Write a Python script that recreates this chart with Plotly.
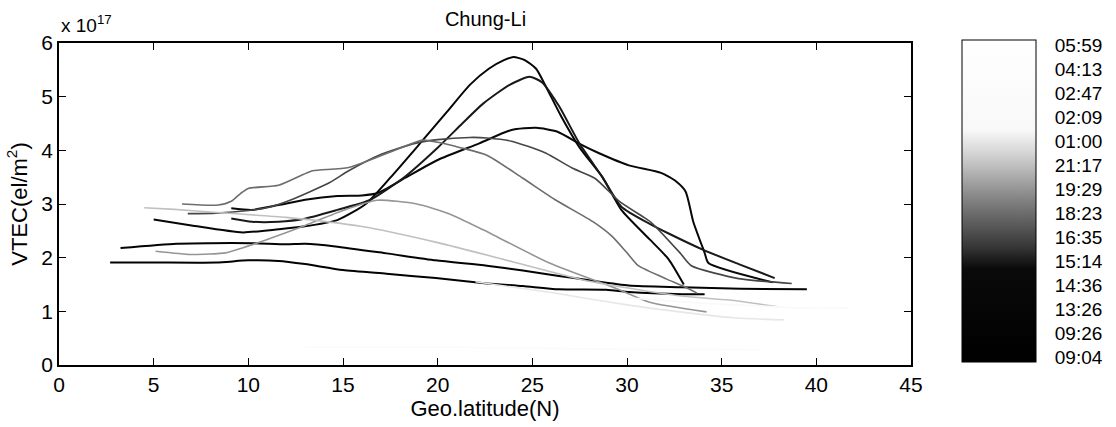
import plotly.graph_objects as go
from plotly.colors import sample_colorscale

# ---- data (VTEC in units of 1e17 el/m^2) ----
times = ["09:04", "09:26", "13:26", "14:36", "15:14", "16:35", "18:23",
         "19:29", "21:17", "01:00", "02:09", "02:47", "04:13", "05:59"]
levels = list(range(1, 15))

lat_0904 = [2.7, 5.0, 8.3, 10.0, 11.6, 13.0, 15.0, 17.3, 19.9, 22.6, 24.5, 26.4, 28.9, 30.1, 32.9, 34.1]
vtec_0904 = [1.91, 1.91, 1.91, 1.95, 1.94, 1.88, 1.77, 1.70, 1.62, 1.52, 1.47, 1.41, 1.40, 1.36, 1.32, 1.32]

lat_0926 = [3.25, 6.2, 8.0, 10.2, 12.0, 13.0, 14.6, 17.3, 19.9, 22.6, 24.5, 26.4, 28.0, 30.1, 32.9, 36.0, 39.5]
vtec_0926 = [2.18, 2.26, 2.27, 2.27, 2.25, 2.26, 2.21, 2.08, 1.95, 1.85, 1.76, 1.66, 1.58, 1.48, 1.45, 1.42, 1.41]

lat_1326 = [5.0, 7.0, 9.7, 11.6, 12.9, 14.7, 16.2, 17.5, 19.0, 20.5, 21.7, 22.7, 23.5, 24.0,
            24.6, 25.2, 25.7, 26.5, 27.5, 28.7, 29.7, 31.2, 32.2, 33.0]
vtec_1326 = [2.71, 2.60, 2.47, 2.53, 2.58, 2.70, 3.00, 3.49, 4.10, 4.72, 5.22, 5.52, 5.68, 5.74,
             5.68, 5.52, 5.20, 4.65, 4.05, 3.50, 2.89, 2.34, 1.97, 1.50]

lat_1436 = [9.1, 10.2, 11.6, 13.0, 14.7, 16.0, 16.8, 18.3, 20.0, 22.2, 23.9, 25.2, 26.3, 27.5,
            28.5, 30.1, 31.8, 32.6, 33.1, 33.5, 34.1, 34.3, 37.7]
vtec_1436 = [2.92, 2.89, 2.98, 3.08, 3.15, 3.16, 3.20, 3.49, 3.82, 4.13, 4.38, 4.42, 4.35, 4.12,
             3.95, 3.72, 3.58, 3.42, 3.23, 2.67, 2.09, 1.90, 1.54]

lat_1514 = [9.1, 10.2, 11.6, 12.9, 14.7, 16.4, 18.2, 20.0, 21.3, 22.4, 23.8, 24.85, 25.5, 26.4,
            27.5, 28.7, 29.7, 31.2, 32.2, 34.0, 35.9, 37.8]
vtec_1514 = [2.73, 2.67, 2.67, 2.72, 2.89, 3.07, 3.49, 4.05, 4.50, 4.87, 5.22, 5.37, 5.27, 4.83,
             4.12, 3.50, 2.95, 2.63, 2.45, 2.15, 1.88, 1.62]

lat_1635 = [6.8, 8.3, 10.0, 11.1, 12.2, 14.3, 15.3, 16.9, 18.8, 20.0, 21.7, 22.6, 23.9, 25.7,
            27.1, 28.3, 29.6, 30.9, 31.3, 32.8, 33.4, 35.9, 38.7]
vtec_1635 = [2.82, 2.83, 2.88, 2.94, 3.07, 3.40, 3.62, 3.91, 4.13, 4.20, 4.24, 4.23, 4.17, 3.95,
             3.67, 3.48, 3.05, 2.75, 2.65, 2.09, 1.85, 1.61, 1.52]

lat_1823 = [6.5, 8.4, 9.1, 9.6, 10.0, 11.6, 12.9, 13.4, 15.3, 18.0, 19.2, 20.0, 21.2, 22.6,
            24.5, 26.25, 28.2, 29.2, 30.0, 30.6, 32.1, 32.9, 33.7]
vtec_1823 = [3.00, 2.98, 3.05, 3.20, 3.29, 3.35, 3.55, 3.62, 3.68, 4.04, 4.19, 4.15, 4.05, 3.91,
             3.48, 3.07, 2.67, 2.40, 2.09, 1.85, 1.60, 1.48, 1.34]

lat_1929 = [5.1, 7.0, 8.8, 9.5, 11.0, 13.0, 15.0, 16.8, 18.9, 20.6, 22.4, 25.9, 29.4, 31.2, 34.2]
vtec_1929 = [2.12, 2.06, 2.09, 2.16, 2.34, 2.60, 2.88, 3.07, 3.00, 2.82, 2.52, 1.90, 1.43, 1.17, 0.99]

lat_2117 = [4.5, 6.1, 8.0, 12.0, 16.0, 20.0, 24.0, 28.0, 31.0, 33.0, 35.4, 37.9]
vtec_2117 = [2.93, 2.90, 2.85, 2.75, 2.58, 2.28, 1.92, 1.56, 1.38, 1.28, 1.21, 1.09]

lat_0100 = [22.0, 26.0, 30.0, 33.0, 35.6, 38.3]
vtec_0100 = [1.55, 1.35, 1.12, 0.98, 0.88, 0.84]

lat_0209 = [30.0, 34.0, 37.0, 39.2, 41.7]
vtec_0209 = [1.25, 1.15, 1.10, 1.06, 1.06]

lat_0247 = [13.0, 15.3, 20.6, 23.4, 28.0, 31.7, 36.4, 37.0]
vtec_0247 = [0.33, 0.33, 0.33, 0.32, 0.30, 0.29, 0.29, 0.28]

lat_0413 = [1.0, 5.0, 10.0, 15.0, 20.0]
vtec_0413 = [0.05, 0.05, 0.06, 0.06, 0.05]

lat_0559 = [10.0, 20.0, 30.0, 40.0]
vtec_0559 = [0.10, 0.10, 0.10, 0.10]

series = [
    (lat_0904, vtec_0904), (lat_0926, vtec_0926), (lat_1326, vtec_1326),
    (lat_1436, vtec_1436), (lat_1514, vtec_1514), (lat_1635, vtec_1635),
    (lat_1823, vtec_1823), (lat_1929, vtec_1929), (lat_2117, vtec_2117),
    (lat_0100, vtec_0100), (lat_0209, vtec_0209), (lat_0247, vtec_0247),
    (lat_0413, vtec_0413), (lat_0559, vtec_0559),
]

# ---- styling ----
FONT = "Liberation Sans, Arial, sans-serif"
cmin, cmax = 0.8, 14.2
gray_scale = [[0.0, "#000000"], [0.29, "#0a0a0a"], [0.36, "#383838"],
              [0.50, "#808080"], [0.64, "#d0d0d0"], [0.72, "#f8f8f8"], [1.0, "#ffffff"]]

fig = go.Figure()
for lev, (lat, vt) in zip(levels, series):
    frac = (lev - cmin) / (cmax - cmin)
    col = sample_colorscale(gray_scale, [frac])[0]
    fig.add_trace(go.Scatter(
        x=lat, y=vt, mode="lines",
        line=dict(color=col, width=2.0 if lev <= 5 else 1.6, shape="spline", smoothing=0.6),
        showlegend=False, hoverinfo="skip"))

# colour bar carrier (invisible markers)
fig.add_trace(go.Scatter(
    x=[s[0][0] for s in series], y=[s[1][0] for s in series], mode="markers",
    marker=dict(color=levels, colorscale=gray_scale, cmin=cmin, cmax=cmax,
                opacity=0, size=1,
                colorbar=dict(
                    x=(963 - 59) / 853, xanchor="left", xpad=0, ypad=0,
                    y=0.509, yanchor="middle", len=1.0, lenmode="fraction",
                    thickness=74, outlinewidth=1, outlinecolor="black",
                    tickvals=levels, ticktext=times,
                    ticks="outside", ticklen=15, tickcolor="rgba(0,0,0,0)",
                    tickfont=dict(family=FONT, size=19, color="black"))),
    showlegend=False, hoverinfo="skip"))

axis_common = dict(showline=True, linecolor="black", linewidth=1.5, mirror="ticks",
                   ticks="inside", ticklen=7, tickwidth=1, tickcolor="black",
                   showgrid=False, zeroline=False,
                   tickfont=dict(family=FONT, size=21, color="black"))

fig.update_layout(
    width=1116, height=427,
    margin=dict(l=59, r=204, t=43, b=56),
    paper_bgcolor="white", plot_bgcolor="white",
    title=dict(text="Chung-Li", x=(59 + 912) / 2 / 1116, xanchor="center",
               y=1 - 19 / 427, yanchor="middle", yref="container",
               font=dict(family=FONT, size=20, color="black")),
    xaxis=dict(range=[0, 45], tick0=0, dtick=5,
               title=dict(text="Geo.latitude(N)", standoff=4,
                          font=dict(family=FONT, size=22, color="black")),
               **axis_common),
    yaxis=dict(range=[0, 6], tick0=0, dtick=1,
               title=dict(text="VTEC(el/m<sup>2</sup>)", standoff=8,
                          font=dict(family=FONT, size=22, color="black")),
               **axis_common),
    annotations=[dict(text="x 10<sup>17</sup>", xref="paper", yref="paper",
                      x=0, y=1, xanchor="left", yanchor="bottom", yshift=5,
                      showarrow=False, font=dict(family=FONT, size=19, color="black"))],
)

fig.write_html("out.html")
